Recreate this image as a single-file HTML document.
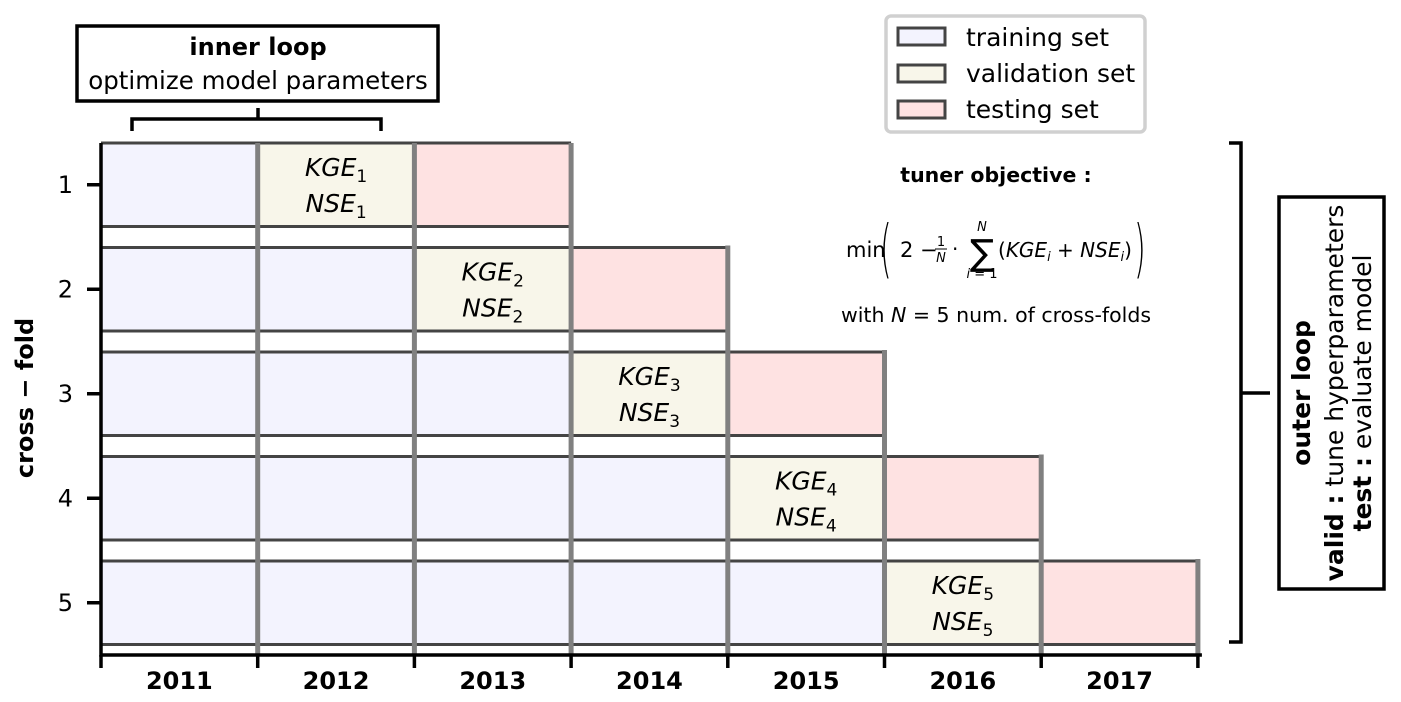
<!DOCTYPE html>
<html><head><meta charset="utf-8"><style>
body{margin:0;background:#fff}
svg{display:block;font-family:"DejaVu Sans","Liberation Sans",sans-serif}
</style></head><body>
<svg id="c" width="1401" height="702" viewBox="0 0 1401 702" xmlns="http://www.w3.org/2000/svg">
<g>
<rect x="77" y="26" width="361" height="75" fill="#fff" stroke="#000" stroke-width="3.5"/>
<text x="258" y="55" text-anchor="middle" font-weight="bold" style="font-size:24px">inner loop</text>
<text x="258" y="89" text-anchor="middle" style="font-size:24.5px">optimize model parameters</text>
</g>
<path d="M132 131V119H381V131M258 119V108" fill="none" stroke="#000" stroke-width="3.5"/>
<g>
<rect x="886" y="16" width="259" height="116" rx="5" fill="#fff" stroke="#d0d0d0" stroke-width="3.5"/>
<rect x="898" y="28" width="47" height="17" fill="#f3f3fe" stroke="#444" stroke-width="3"/>
<text x="966" y="46" style="font-size:25px">training set</text>
<rect x="898" y="65" width="47" height="17" fill="#f8f6ea" stroke="#444" stroke-width="3"/>
<text x="966" y="82" style="font-size:25px">validation set</text>
<rect x="898" y="101" width="47" height="17" fill="#fee2e2" stroke="#444" stroke-width="3"/>
<text x="966" y="118" style="font-size:25px">testing set</text>
</g>
<g>
<text x="996" y="182" text-anchor="middle" font-weight="bold" style="font-size:20.5px">tuner objective :</text>
<text x="846" y="257" style="font-size:21px">min</text>
<text x="0" y="0" transform="translate(880,270) scale(1,2.1)" style="font-size:30px;font-weight:100">(</text>
<text x="900" y="257" style="font-size:21px">2 −</text>
<text x="941" y="246" text-anchor="middle" style="font-size:13px">1</text>
<line x1="935" y1="249" x2="947" y2="249" stroke="#000"/>
<text x="941" y="262" text-anchor="middle" font-style="italic" style="font-size:13px">N</text>
<text x="952" y="256" style="font-size:20px">·</text>
<text x="982" y="265" text-anchor="middle" style="font-size:36px">∑</text>
<text x="982" y="231" text-anchor="middle" font-style="italic" style="font-size:13px">N</text>
<text x="982" y="278" text-anchor="middle" style="font-size:13px"><tspan font-style="italic">i</tspan> = 1</text>
<text x="998" y="257" style="font-size:20px">(<tspan font-style="italic">KGE<tspan style="font-size:13px" dy="4">i</tspan></tspan><tspan dy="-4"> + </tspan><tspan font-style="italic">NSE<tspan style="font-size:13px" dy="4">i</tspan></tspan><tspan dy="-4">)</tspan></text>
<text x="0" y="0" transform="translate(1134,270) scale(1,2.1)" style="font-size:30px;font-weight:100">)</text>
<text x="996" y="322" text-anchor="middle" style="font-size:20.5px">with <tspan font-style="italic">N</tspan> = 5 num. of cross-folds</text>
</g>
<path d="M1229 143H1241V642H1229M1241 393H1270" fill="none" stroke="#000" stroke-width="3.5"/>
<g>
<rect x="1279" y="197" width="105" height="392" fill="#fff" stroke="#000" stroke-width="3.5"/>
<g transform="translate(1333,393) rotate(-90)" text-anchor="middle" style="font-size:25px">
<text y="-23" font-weight="bold">outer loop</text>
<text y="10"><tspan font-weight="bold">valid :</tspan> tune hyperparameters</text>
<text y="38"><tspan font-weight="bold">test :</tspan>   evaluate model</text>
</g>
</g>
<text transform="translate(33,398) rotate(-90)" text-anchor="middle" font-weight="bold" style="font-size:24px">cross − fold</text>
<g id="plot"></g>
</svg>
<script>
const years = ["2011","2012","2013","2014","2015","2016","2017"];
const folds = [1,2,3,4,5];
const validIndex = [1,2,3,4,5];
const testIndex = [2,3,4,5,6];
const NS="http://www.w3.org/2000/svg";
const g=document.getElementById('plot');
const X0=101,XW=156.7,Y0=143,PITCH=104.5,RH=83.5;
const xs=i=>X0+i*XW;
const yTop=f=>Y0+(f-1)*PITCH;
function mk(t,a){const e=document.createElementNS(NS,t);for(const k in a)e.setAttribute(k,a[k]);g.appendChild(e);return e;}
folds.forEach((f,fi)=>{
  const v=validIndex[fi],te=testIndex[fi],y=yTop(f);
  for(let i=0;i<=te;i++){
    const fill=i<v?"#f3f3fe":(i===v?"#f8f6ea":"#fee2e2");
    const r=mk('rect',{x:xs(i),y:y,width:XW,height:RH,fill:fill});
    
    
  }
  const xe=xs(te+1);
  [y,y+RH].forEach(yy=>{const l=mk('line',{x1:X0,x2:xe,y1:yy,y2:yy,stroke:'#444','stroke-width':3});
    
    });
  const t=mk('text',{x:xs(v)+XW/2,y:y+RH/2-9,'text-anchor':'middle','font-style':'italic',style:'font-size:25px'});
  t.innerHTML='KGE<tspan style="font-size:17px;font-style:normal" dy="6">'+f+'</tspan>';
  
  
  const t2=mk('text',{x:xs(v)+XW/2,y:y+RH/2+27,'text-anchor':'middle','font-style':'italic',style:'font-size:25px'});
  t2.innerHTML='NSE<tspan style="font-size:17px;font-style:normal" dy="6">'+f+'</tspan>';
  
  
});
for(let j=1;j<=years.length;j++){
  const f=Math.max(1,j-2);
  const l=mk('line',{x1:xs(j),x2:xs(j),y1:yTop(f)-(f>1?2:0),y2:655,stroke:'#808080','stroke-width':5});
  
  
}
const ax=mk('path',{d:`M${X0} 143V655H${xs(7)+4}`,fill:'none',stroke:'#000','stroke-width':3.5});


years.forEach((yr,i)=>{
  const t=mk('text',{x:xs(i)+XW/2,y:689,'text-anchor':'middle','font-weight':'bold',style:'font-size:24px'});
  t.textContent=yr;
  
  
});
for(let j=0;j<=years.length;j++){
  const l=mk('line',{x1:xs(j),x2:xs(j),y1:655,y2:668,stroke:'#000','stroke-width':3.5});
  
  
}
folds.forEach(f=>{
  const yc=yTop(f)+RH/2;
  const l=mk('line',{x1:87,x2:101,y1:yc,y2:yc,stroke:'#000','stroke-width':3.5});
  
  
  const t=mk('text',{x:73,y:yc+8,'text-anchor':'end',style:'font-size:24px'});
  t.textContent=f;
  
  
});
</script>
</body></html>
